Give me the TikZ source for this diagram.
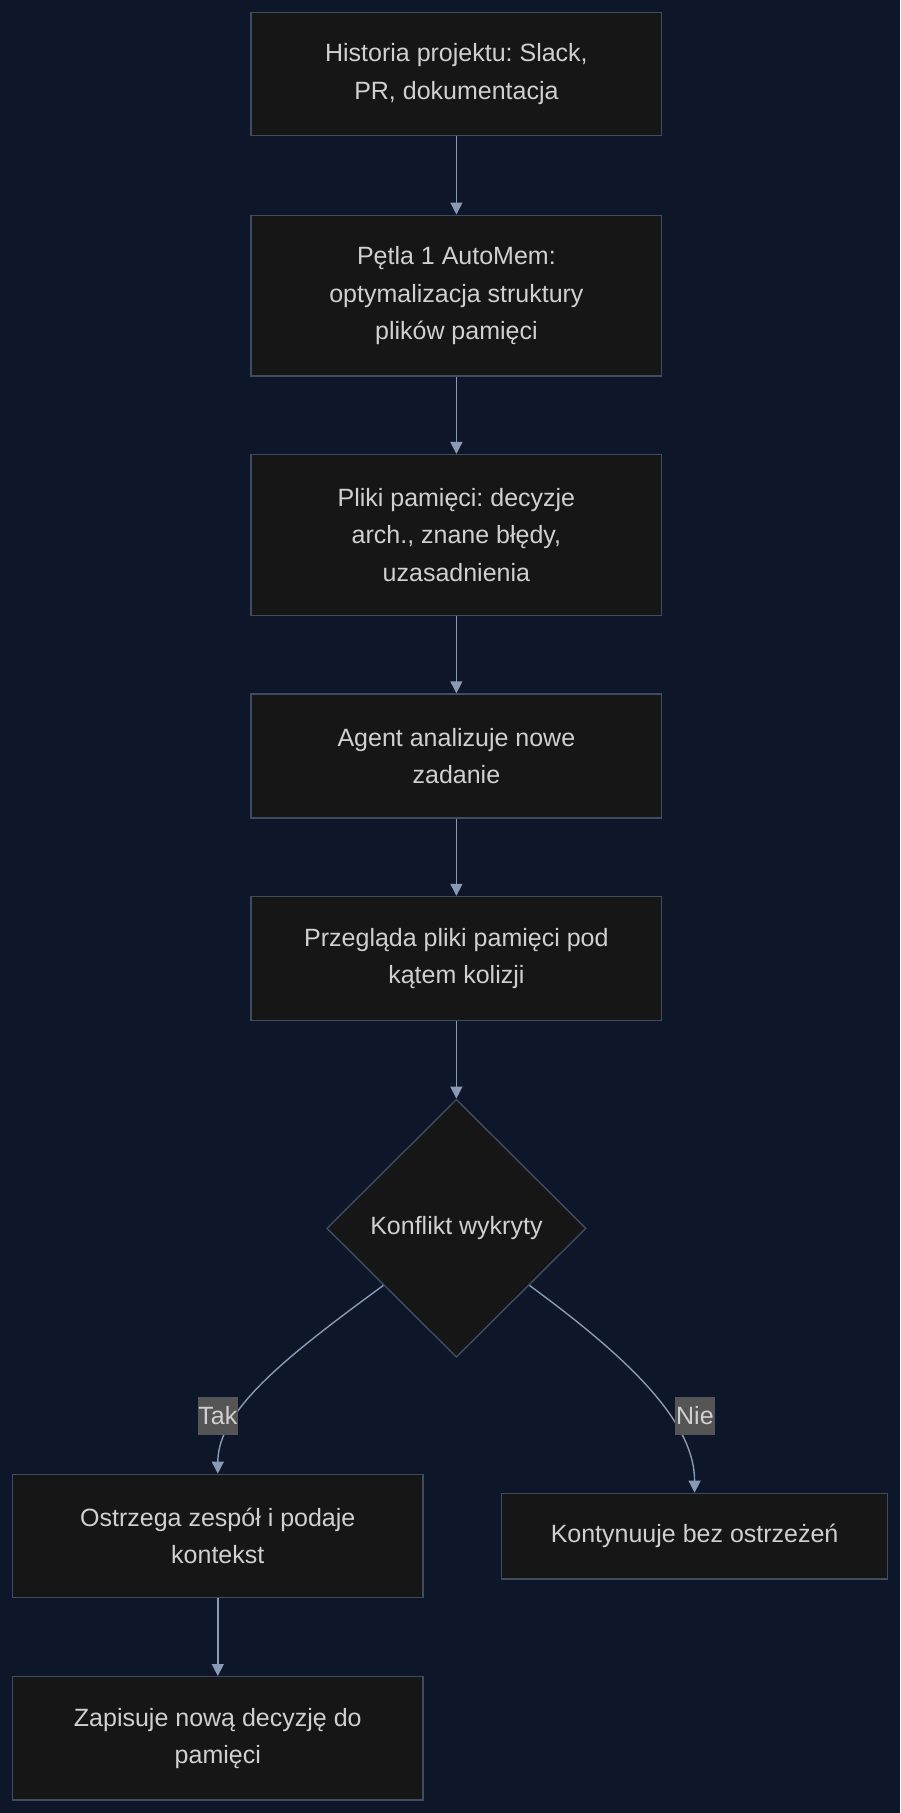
\documentclass[tikz,border=0pt]{standalone}
\usepackage{fontspec}
\setmainfont{Liberation Sans}
\usetikzlibrary{shapes.geometric,arrows.meta,calc}
\frenchspacing

\definecolor{pagebg}{RGB}{14,23,41}
\definecolor{boxfill}{RGB}{22,22,22}
\definecolor{boxline}{RGB}{62,76,96}
\definecolor{txt}{RGB}{208,208,208}
\definecolor{edge}{RGB}{138,154,180}
\definecolor{lblbg}{RGB}{85,85,85}

\tikzset{
  base/.style={draw=boxline, fill=boxfill, line width=1.4pt, text=txt,
    font=\fontsize{25}{37.7}\selectfont, align=center, inner sep=0pt},
  stepbox/.style={base, rectangle, minimum width=410.7pt},
  decision/.style={base, diamond, aspect=1, minimum width=259.4pt, minimum height=258pt},
  flow/.style={draw=edge, line width=1.4pt, -{Triangle[length=12pt,width=12pt]}},
  edgelabel/.style={fill=lblbg, text=txt, inner sep=0pt, minimum width=39.7pt,
    minimum height=37.5pt, font=\fontsize{25}{30}\selectfont}
}

\begin{document}
\begin{tikzpicture}[x=1pt, y=-1pt]
  \fill[pagebg] (0,0) rectangle (900,1813);
  \useasboundingbox (0,0) rectangle (900,1813);

  % main column
  \node[stepbox, minimum height=123.4pt] (hist) at (456.4,74) {Historia projektu: Slack,\\PR, dokumentacja};
  \node[stepbox, minimum height=160.8pt] (loop) at (456.4,295.6) {Pętla 1 AutoMem:\\optymalizacja struktury\\plików pamięci};
  \node[stepbox, minimum height=160.8pt] (files) at (456.4,535) {Pliki pamięci: decyzje\\arch., znane błędy,\\uzasadnienia};
  \node[stepbox, minimum height=124pt] (agent) at (456.4,756) {Agent analizuje nowe\\zadanie};
  \node[stepbox, minimum height=123.8pt] (scan) at (456.4,958.4) {Przegląda pliki pamięci pod\\kątem kolizji};
  \node[decision] (conf) at (456.4,1228.3) {Konflikt wykryty};

  % branches
  \node[stepbox, minimum height=123.4pt] (warn) at (217.8,1536) {Ostrzega zespół i podaje\\kontekst};
  \node[stepbox, minimum width=385.8pt, minimum height=85.7pt] (cont) at (694.6,1536.2) {Kontynuuje bez ostrzeżeń};
  \node[stepbox, minimum height=123.4pt] (save) at (217.8,1738.4) {Zapisuje nową decyzję do\\pamięci};

  % connectors
  \draw[flow] (hist.south) -- (loop.north);
  \draw[flow] (loop.south) -- (files.north);
  \draw[flow] (files.south) -- (agent.north);
  \draw[flow] (agent.south) -- (scan.north);
  \draw[flow] (scan.south) -- (conf.north);
  \draw[flow] ($(conf.west)!0.44!(conf.south)$) .. controls +(-94,69) and +(0,-64) .. (warn.north);
  \draw[flow] ($(conf.east)!0.44!(conf.south)$) .. controls +(94,69) and +(0,-73) .. (cont.north);
  \draw[flow] (warn.south) -- (save.north);

  % edge labels
  \node[edgelabel] (yes) at (217.8,1416) {Tak};
  \node[edgelabel] (no) at (694.9,1416) {Nie};
\end{tikzpicture}
\end{document}
